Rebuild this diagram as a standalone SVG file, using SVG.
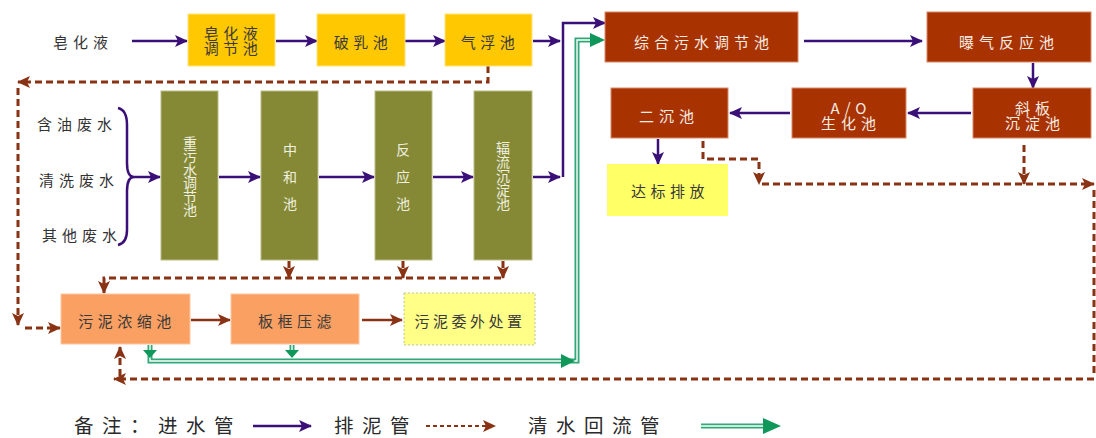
<svg xmlns="http://www.w3.org/2000/svg" width="1096" height="438" viewBox="0 0 1096 438">
<style>
text{font-family:"Noto Sans CJK SC","Noto Sans",sans-serif;}
.lab{font-size:15px;fill:#333;letter-spacing:5px;dominant-baseline:central;text-anchor:middle;}
.dk{font-size:15px;fill:#3a3a3a;letter-spacing:4.5px;dominant-baseline:central;text-anchor:middle;}
.wt{font-size:15px;fill:#f6ece4;letter-spacing:5px;dominant-baseline:central;text-anchor:middle;}
.vt{font-size:14px;fill:#f0f0e0;writing-mode:vertical-rl;text-anchor:middle;}
.leg{font-size:19.5px;fill:#2a2a2a;letter-spacing:8.5px;dominant-baseline:central;}
.yel{fill:#FFC800;stroke:#ffe27a;stroke-width:1;}
.olv{fill:#858936;stroke:#b9bb84;stroke-width:1;}
.red{fill:#A83200;stroke:#d98a6a;stroke-width:1;}
.sal{fill:#F9A062;stroke:#fcc8a0;stroke-width:1;}
.pu{stroke:#3a1078;stroke-width:2.5;fill:none;}
.pua{stroke:#3a1078;stroke-width:2.5;fill:none;marker-end:url(#ap);}
.br{stroke:#8a3214;stroke-width:3;fill:none;stroke-dasharray:7 4;}
.bra{stroke:#8a3214;stroke-width:3;fill:none;stroke-dasharray:7 4;marker-end:url(#ab);}
.brs{stroke:#8a3214;stroke-width:2.5;fill:none;marker-end:url(#ab);}
.gro{stroke:#30a878;stroke-width:5;fill:none;}
.gri{stroke:#ffffff;stroke-width:1.4;fill:none;}
</style>
<defs>
<marker id="ap" markerUnits="userSpaceOnUse" markerWidth="14" markerHeight="12" refX="12" refY="6" orient="auto"><path d="M0,0 L13,6 L0,12 L3,6 Z" fill="#3a1078"/></marker>
<marker id="ab" markerUnits="userSpaceOnUse" markerWidth="14" markerHeight="12" refX="12" refY="6" orient="auto"><path d="M0,0 L13,6 L0,12 L3,6 Z" fill="#8a3214"/></marker>
</defs>
<rect width="1096" height="438" fill="#ffffff"/>

<g id="labels">
<text class="lab" x="83" y="41">皂化液</text>
<text class="lab" x="77" y="123">含油废水</text>
<text class="lab" x="79" y="179">清洗废水</text>
<text class="lab" x="82" y="234">其他废水</text>
</g>

<g id="connectors">
<line class="pua" x1="132" y1="41" x2="187" y2="41"/>
<line class="pua" x1="276" y1="41" x2="317" y2="41"/>
<line class="pua" x1="405" y1="41" x2="445" y2="41"/>
<line class="pua" x1="533" y1="41" x2="560" y2="41"/>
<polyline class="pua" points="563,177 563,23 605,23"/>
<line class="pua" x1="533" y1="177" x2="560" y2="177"/>
<path class="pu" stroke-width="3" d="M118,108 Q127,110 127,125 L127,163 Q127,177 134,177 Q127,177 127,191 L127,230 Q127,243 118,245"/>
<line class="pua" x1="134" y1="177" x2="160" y2="177"/>
<line class="pua" x1="219" y1="177" x2="260" y2="177"/>
<line class="pua" x1="319" y1="177" x2="374" y2="177"/>
<line class="pua" x1="433" y1="177" x2="473" y2="177"/>
<line class="pua" x1="804" y1="41" x2="922" y2="41"/>
<line class="pua" x1="1033" y1="63" x2="1033" y2="88"/>
<line class="pua" x1="971" y1="113" x2="908" y2="113"/>
<line class="pua" x1="790" y1="113" x2="730" y2="113"/>
<line class="pua" x1="658" y1="139" x2="658" y2="164"/>
<polyline class="bra" points="488,66 488,82 18,82"/>
<line class="bra" x1="18" y1="88" x2="18" y2="325"/>
<line class="bra" x1="25" y1="328" x2="60" y2="328"/>
<line class="bra" x1="289" y1="261" x2="289" y2="278"/>
<line class="bra" x1="403" y1="261" x2="403" y2="278"/>
<line class="bra" x1="503" y1="261" x2="503" y2="278"/>
<polyline class="bra" points="501,278 104,278 104,293"/>
<polyline class="bra" points="703,141 703,159 759,159 759,184"/>
<line class="bra" x1="1024" y1="145" x2="1024" y2="184"/>
<line class="bra" x1="762" y1="184" x2="1094" y2="184"/>
<line class="br" x1="1094" y1="190" x2="1094" y2="376"/>
<line class="bra" x1="1094" y1="379" x2="114" y2="379"/>
<line class="bra" x1="120" y1="376" x2="120" y2="347"/>
<line class="brs" x1="191" y1="320" x2="230" y2="320"/>
<line class="brs" x1="362" y1="320" x2="402" y2="320"/>
<polyline class="gro" points="150,345 150,361 577,361 577,40 600,40"/>
<polyline class="gri" points="150,345 150,361 577,361 577,40 600,40"/>
<line class="gro" x1="292" y1="345" x2="292" y2="355"/>
<line class="gri" x1="292" y1="345" x2="292" y2="355"/>
<path d="M143,350 L150,358 L157,350 Z" fill="#10985a"/>
<path d="M285,350 L292,358 L299,350 Z" fill="#10985a"/>
<path d="M561,354 L575,361 L561,368 Z" fill="#10985a"/>
<path d="M590,33 L605,40 L590,47 Z" fill="#10985a"/>
</g>

<g id="n-zaohua"><rect class="yel" x="188" y="14" width="87" height="52"/>
<text class="dk"><tspan x="233" y="32">皂化液</tspan><tspan x="233" y="47">调节池</tspan></text></g>
<g id="n-poru"><rect class="yel" x="317" y="14" width="88" height="52"/><text class="dk" x="363" y="41">破乳池</text></g>
<g id="n-qifu"><rect class="yel" x="445" y="14" width="87" height="52"/><text class="dk" x="490" y="41">气浮池</text></g>

<g id="n-zhongwu"><rect class="olv" x="161" y="91" width="57" height="169"/>
<text class="vt" x="190" y="176" style="letter-spacing:-0.5px">重污水调节池</text></g>
<g id="n-zhonghe"><rect class="olv" x="261" y="91" width="57" height="169"/>
<text class="vt" x="290" y="183" style="letter-spacing:13px">中和池</text></g>
<g id="n-fanying"><rect class="olv" x="375" y="91" width="57" height="169"/>
<text class="vt" x="403" y="183" style="letter-spacing:13px">反应池</text></g>
<g id="n-fuliu"><rect class="olv" x="474" y="91" width="58" height="169"/>
<text class="vt" x="503" y="176" style="letter-spacing:0px">辐流沉淀池</text></g>

<g id="n-zonghe"><rect class="red" x="605" y="12" width="193" height="50"/><text class="wt" x="704" y="41">综合污水调节池</text></g>
<g id="n-baoqi"><rect class="red" x="927" y="12" width="164" height="50"/><text class="wt" x="1009" y="41">曝气反应池</text></g>
<g id="n-xieban"><rect class="red" x="973" y="88" width="118" height="50"/>
<text class="wt"><tspan x="1035" y="107">斜板</tspan><tspan x="1035" y="122">沉淀池</tspan></text></g>
<g id="n-ao"><rect class="red" x="792" y="88" width="114" height="50"/>
<text class="wt"><tspan x="851" y="107">A/O</tspan><tspan x="851" y="122">生化池</tspan></text></g>
<g id="n-erchen"><rect class="red" x="611" y="88" width="117" height="50"/><text class="wt" x="669" y="115">二沉池</text></g>
<g id="n-dabiao"><rect x="607" y="164" width="121" height="52" fill="#FFFF66"/><text class="dk" x="670" y="190">达标排放</text></g>

<g id="n-nongsuo"><rect class="sal" x="61" y="294" width="129" height="50"/><text class="dk" x="127" y="320">污泥浓缩池</text></g>
<g id="n-bankuang"><rect class="sal" x="231" y="294" width="128" height="50"/><text class="dk" x="297" y="320">板框压滤</text></g>
<g id="n-weiwai"><rect x="404" y="293" width="131" height="52" fill="#FFFF88" stroke="#b8c8a0" stroke-width="1" stroke-dasharray="2 2"/><text class="dk" x="470" y="320" style="letter-spacing:3.5px">污泥委外处置</text></g>

<g id="legend">
<text class="leg" x="74" y="424">备注：进水管</text>
<line class="pua" x1="253" y1="426" x2="311" y2="426"/>
<text class="leg" x="334" y="424">排泥管</text>
<line stroke="#8a3214" stroke-width="2" stroke-dasharray="4 3" x1="426" y1="426" x2="495" y2="426" marker-end="url(#ab)"/>
<text class="leg" x="528" y="424">清水回流管</text>
<line class="gro" x1="701" y1="426" x2="768" y2="426"/>
<line class="gri" x1="701" y1="426" x2="768" y2="426"/>
<path d="M763,418 L781,426 L763,434 Z" fill="#10985a"/>
</g>
</svg>
